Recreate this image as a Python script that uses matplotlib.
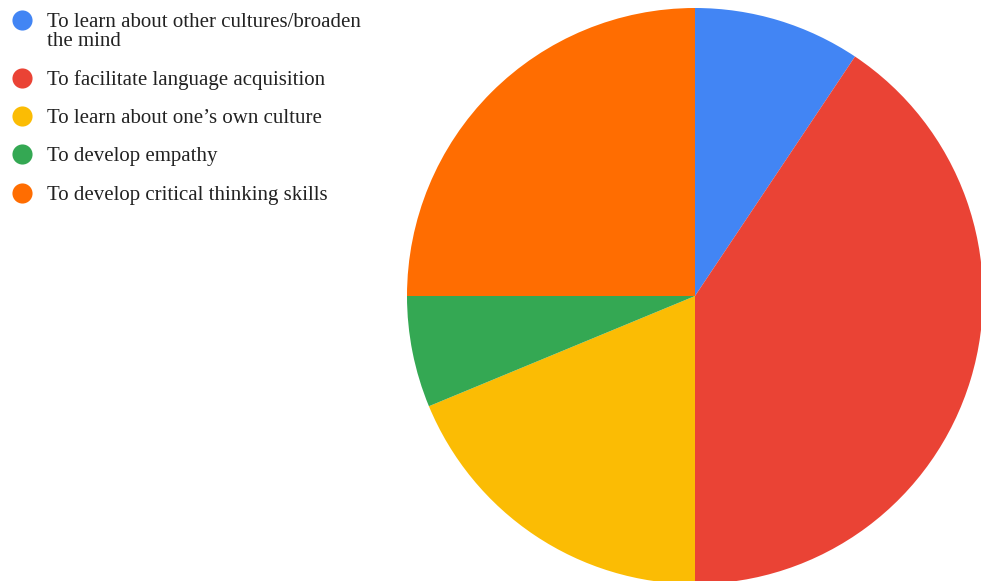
import matplotlib.pyplot as plt

labels = ['To learn about other cultures/broaden\nthe mind',
          'To facilitate language acquisition',
          'To learn about one\u2019s own culture',
          'To develop empathy',
          'To develop critical thinking skills']
values = [3, 13, 6, 2, 8]
colors = ['#4285F4', '#EA4335', '#FBBC04', '#34A853', '#FF6D01']

W, H = 981, 581
fig = plt.figure(figsize=(W / 100, H / 100), dpi=100)

# pie: center (695, 296), radius 288 px
cx, cy, r = 695, 296, 288
ax = fig.add_axes([(cx - r) / W, (H - cy - r) / H, 2 * r / W, 2 * r / H])
ax.pie(values, colors=colors, startangle=90, counterclock=False, radius=1,
       wedgeprops=dict(linewidth=0))
ax.set_xlim(-1, 1)
ax.set_ylim(-1, 1)
ax.set_aspect('equal')
ax.axis('off')

# legend drawn in pixel coords
lg = fig.add_axes([0, 0, 1, 1], zorder=5)
lg.set_xlim(0, W)
lg.set_ylim(H, 0)
lg.axis('off')
y = 20
for lab, col in zip(labels, colors):
    lg.scatter([22], [y], s=210, color=col, linewidths=0)
    lines = lab.split('\n')
    for k, line in enumerate(lines):
        lg.text(47, y + 7 + 19.5 * k, line, va='baseline', ha='left', fontsize=15,
                family='Liberation Serif', color='#222222')
    y += 19.5 * (len(lines) - 1) + 38.3

fig.savefig('out.png', dpi=100)
